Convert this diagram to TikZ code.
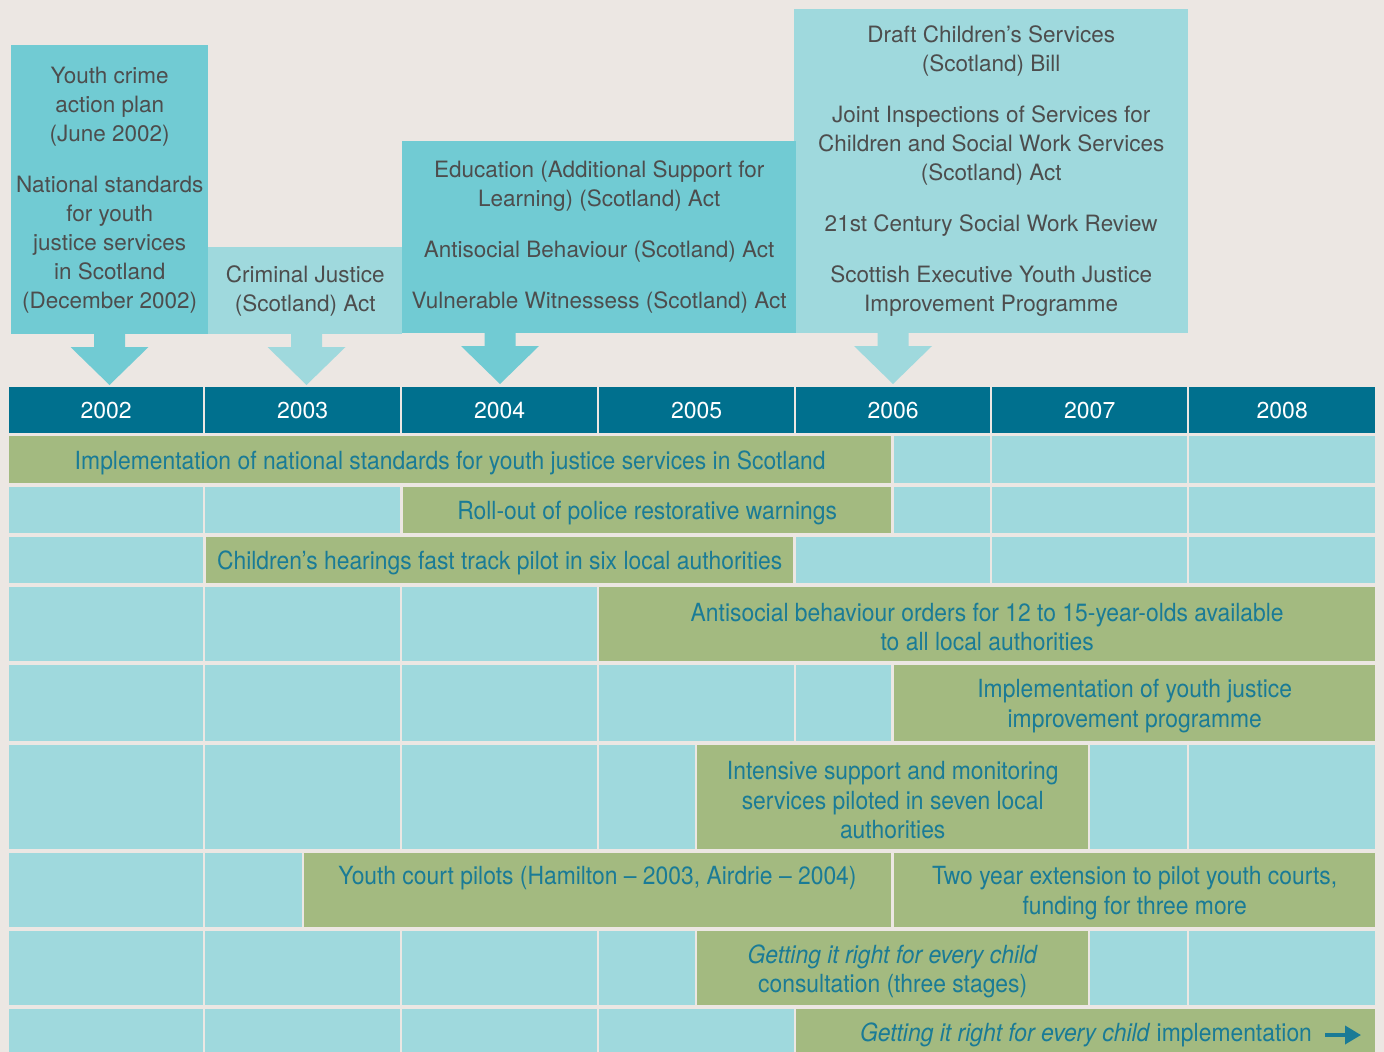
\documentclass[tikz,border=0pt]{standalone}
\usepackage{fontspec}
\setmainfont{TeX Gyre Heros}
\newfontfamily\condfont{TeX Gyre Heros}[FakeStretch=0.915]
\usetikzlibrary{arrows.meta}
\definecolor{bgc}{HTML}{ECE7E3}
\definecolor{darkbox}{HTML}{71CBD3}
\definecolor{lightbox}{HTML}{9FD9DD}
\definecolor{headc}{HTML}{00708E}
\definecolor{greenc}{HTML}{A3BA80}
\definecolor{greentxt}{HTML}{1A7B96}
\definecolor{boxtxt}{HTML}{4D4D4D}
\tikzset{
  topbox/.style={rectangle, inner sep=0pt, anchor=north west, align=center,
    text=boxtxt, font=\fontsize{22.5}{29}\selectfont},
  yearbox/.style={rectangle, inner sep=0pt, anchor=north west, fill=headc,
    text=white, font=\fontsize{23}{28}\selectfont},
  greenbar/.style={rectangle, inner sep=0pt, anchor=north west, fill=greenc},
  bartext/.style={inner sep=0pt, align=center, text=greentxt,
    font=\condfont\fontsize{25}{29.5}\selectfont}
}
\newcommand{\gbar}[6]{%
  \node[greenbar, minimum width={#3-#1}, minimum height={#4-#2}] (#5) at (#1,#2) {};
  \node[bartext] (#5-t) at ([yshift=-3pt]#5.center) {#6};}
\newcommand{\downarr}[3]{%
  \fill[#3] (#1-15.5,#2) -- (#1+15.5,#2) -- (#1+15.5,#2+13) -- (#1+39,#2+13)
    -- (#1,#2+51) -- (#1-39,#2+13) -- (#1-15.5,#2+13) -- cycle;}
\begin{document}
\begin{tikzpicture}[x=1pt,y=-1pt]
\useasboundingbox (0,0) rectangle (1384,1052);
\fill[bgc] (0,0) rectangle (1384,1052);

% ---- top boxes ----
\node[topbox, fill=lightbox, minimum width=394, minimum height=324] (b4) at (794,9)
  {Draft Children’s Services\\(Scotland) Bill\\[22pt]
   Joint Inspections of Services for\\Children and Social Work Services\\(Scotland) Act\\[22pt]
   21st Century Social Work Review\\[22pt]
   Scottish Executive Youth Justice\\Improvement Programme};
\node[topbox, fill=darkbox, minimum width=394, minimum height=192] (b3) at (402,141)
  {Education (Additional Support for\\Learning) (Scotland) Act\\[22pt]
   Antisocial Behaviour (Scotland) Act\\[22pt]
   Vulnerable Witnessess (Scotland) Act};
\node[topbox, fill=lightbox, minimum width=194, minimum height=87] (b2) at (208,247)
  {Criminal Justice\\(Scotland) Act};
\node[topbox, fill=darkbox, minimum width=197, minimum height=289] (b1) at (11,45)
  {Youth crime\\action plan\\(June 2002)\\[22pt]
   National standards\\for youth\\justice services\\in Scotland\\(December 2002)};

% ---- down arrows ----
\downarr{109.5}{334}{darkbox}
\downarr{306.5}{334}{lightbox}
\downarr{500}{333}{darkbox}
\downarr{893}{333}{lightbox}

% ---- year header ----
\node[yearbox, minimum width=194, minimum height=46] (y2002) at (9,387) {2002};
\node[yearbox, minimum width=195, minimum height=46] (y2003) at (205,387) {2003};
\node[yearbox, minimum width=195, minimum height=46] (y2004) at (402,387) {2004};
\node[yearbox, minimum width=195, minimum height=46] (y2005) at (599,387) {2005};
\node[yearbox, minimum width=194, minimum height=46] (y2006) at (796,387) {2006};
\node[yearbox, minimum width=195, minimum height=46] (y2007) at (992,387) {2007};
\node[yearbox, minimum width=186, minimum height=46] (y2008) at (1189,387) {2008};

% ---- blue cells ----
\foreach \ya/\yb/\cells in {
  436/483/{894/990,992/1187,1189/1375},
  487/533/{9/203,205/400,894/990,992/1187,1189/1375},
  537/583/{9/203,796/990,992/1187,1189/1375},
  587/661/{9/203,205/400,402/597},
  665/741/{9/203,205/400,402/597,599/794,796/891},
  745/849/{9/203,205/400,402/597,599/695,1090/1187,1189/1375},
  853/927/{9/203,205/302},
  931/1005/{9/203,205/400,402/597,599/695,1090/1187,1189/1375},
  1009/1052/{9/203,205/400,402/597,599/794}}{
  \foreach \xa/\xb in \cells {\fill[lightbox] (\xa,\ya) rectangle (\xb,\yb);}
}

% ---- green bars ----
\gbar{9}{436}{891}{483}{g1}{Implementation of national standards for youth justice services in Scotland}
\gbar{403}{487}{891}{533}{g2}{Roll-out of police restorative warnings}
\gbar{206}{537}{793}{583}{g3}{Children’s hearings fast track pilot in six local authorities}
\gbar{599}{587}{1375}{661}{g4}{Antisocial behaviour orders for 12 to 15-year-olds available\\to all local authorities}
\gbar{894}{665}{1375}{741}{g5}{Implementation of youth justice\\improvement programme}
\gbar{697}{745}{1088}{849}{g6}{Intensive support and monitoring\\services piloted in seven local\\authorities}
\node[greenbar, minimum width=587, minimum height=74] (g7) at (304,853) {};
\node[bartext] (g7-t) at (597.5,878) {Youth court pilots (Hamilton – 2003, Airdrie – 2004)};
\gbar{894}{853}{1375}{927}{g8}{Two year extension to pilot youth courts,\\funding for three more}
\gbar{697}{931}{1088}{1005}{g9}{\textit{Getting it right for every child}\\consultation (three stages)}
\node[greenbar, minimum width=579, minimum height=43] (g10) at (796,1009) {};
\node[bartext] (g10-t) at (1086,1035) {\textit{Getting it right for every child} implementation};
\coordinate (ar1) at (1325,1035);
\coordinate (ar2) at (1361,1035);
\draw[greentxt, line width=3.6pt, -{Triangle[length=16pt,width=18pt]}] (ar1) -- (ar2);
\end{tikzpicture}
\end{document}
